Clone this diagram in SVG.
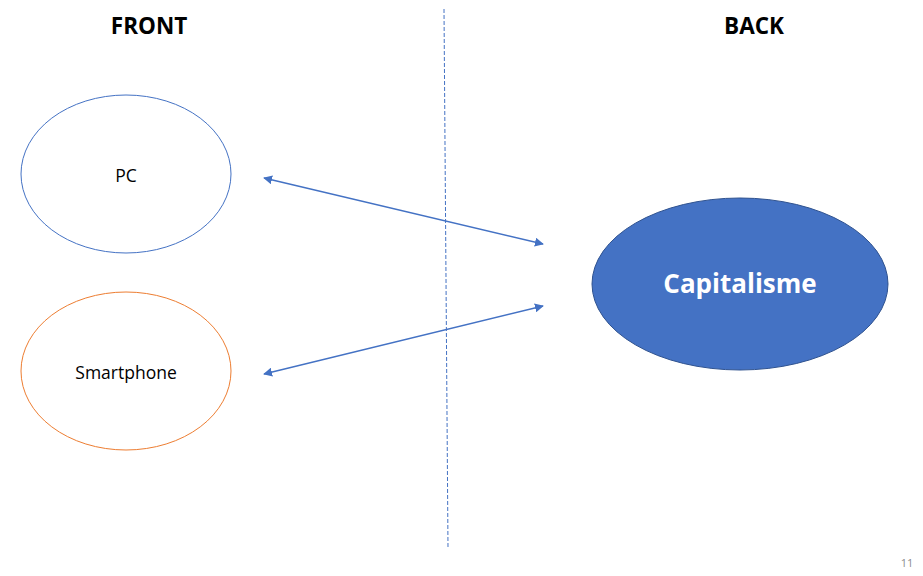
<svg xmlns="http://www.w3.org/2000/svg" width="923" height="576" viewBox="0 0 923 576">
<style>
text{font-family:"Open Sans","Liberation Sans",sans-serif;text-anchor:middle}
.h{font-weight:bold;font-size:22.5px;fill:#000}
.n{font-size:17.5px;fill:#000}
.c{stroke:#4472c4;stroke-width:1.5;fill:none;marker-start:url(#a);marker-end:url(#a)}
</style>
<defs>
<marker id="a" viewBox="0 0 10 10" refX="9" refY="5" markerWidth="6" markerHeight="6" orient="auto-start-reverse" markerUnits="strokeWidth">
<path d="M0,0L10,5L0,10z" fill="#4472c4"/>
</marker>
</defs>
<rect width="923" height="576" fill="#fff"/>
<text class="h" x="149" y="34">FRONT</text>
<text class="h" x="754" y="34">BACK</text>
<line x1="444" y1="9" x2="448" y2="548" stroke="#4472c4" stroke-width="1" stroke-dasharray="4,2"/>
<g id="pc">
<ellipse cx="126" cy="174" rx="105" ry="79" fill="#fff" stroke="#4472c4" stroke-width="1"/>
<text class="n" x="126" y="182">PC</text>
</g>
<g id="smartphone">
<ellipse cx="126" cy="371" rx="105" ry="79" fill="#fff" stroke="#ed7d31" stroke-width="1"/>
<text class="n" x="126" y="379">Smartphone</text>
</g>
<g id="capitalisme">
<ellipse cx="740" cy="284" rx="148" ry="86" fill="#4472c4" stroke="#2f528f" stroke-width="1"/>
<text x="740" y="293" style="font-weight:bold;font-size:26px;fill:#fff">Capitalisme</text>
</g>
<g id="connectors">
<line class="c" x1="264" y1="178" x2="543" y2="244"/>
<line class="c" x1="264" y1="374" x2="543" y2="306"/>
</g>
<text x="907" y="567" style="font-size:11px;fill:#8c8c8c">11</text>
</svg>
